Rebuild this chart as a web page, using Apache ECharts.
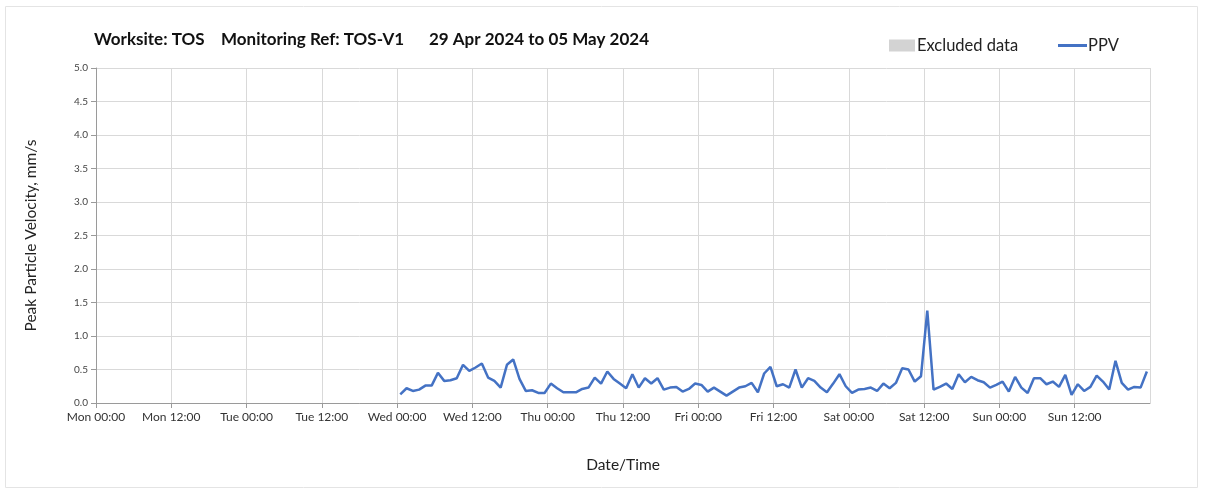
<!DOCTYPE html>
<html>
<head>
<meta charset="utf-8">
<script src="https://cdn.jsdelivr.net/npm/echarts@6.0.0/dist/echarts.min.js"></script>
<style>
  html, body { margin: 0; padding: 0; background: #fff; }
  #chart { width: 1208px; height: 495px; }
</style>
</head>
<body>
<div id="chart"></div>
<script>
// x axis runs in hours from Mon 00:00 to the following Mon 00:00
const tickLabels = ["Mon 00:00", "Mon 12:00", "Tue 00:00", "Tue 12:00", "Wed 00:00", "Wed 12:00",
    "Thu 00:00", "Thu 12:00", "Fri 00:00", "Fri 12:00", "Sat 00:00", "Sat 12:00",
    "Sun 00:00", "Sun 12:00", ""];

// hourly PPV readings (mm/s), first one at Wed 00:30
const ppvFirstHour = 48.5;
const ppvValues = [
    0.13, 0.22, 0.18, 0.20, 0.26, 0.26, 0.45, 0.33, 0.34, 0.37, 0.57, 0.48,
    0.53, 0.59, 0.38, 0.33, 0.23, 0.57, 0.65, 0.36, 0.18, 0.19, 0.15, 0.15,
    0.29, 0.22, 0.16, 0.16, 0.16, 0.21, 0.23, 0.38, 0.29, 0.47, 0.36, 0.29,
    0.22, 0.43, 0.23, 0.37, 0.29, 0.37, 0.20, 0.23, 0.24, 0.17, 0.21, 0.29,
    0.27, 0.17, 0.23, 0.17, 0.11, 0.17, 0.23, 0.25, 0.30, 0.16, 0.44, 0.54,
    0.25, 0.28, 0.23, 0.50, 0.23, 0.37, 0.33, 0.23, 0.16, 0.29, 0.43, 0.25,
    0.15, 0.20, 0.21, 0.23, 0.18, 0.29, 0.22, 0.30, 0.52, 0.50, 0.32, 0.40,
    1.38, 0.20, 0.24, 0.29, 0.21, 0.43, 0.31, 0.39, 0.34, 0.31, 0.23, 0.27,
    0.32, 0.17, 0.39, 0.23, 0.15, 0.37, 0.37, 0.28, 0.32, 0.24, 0.42, 0.12,
    0.28, 0.18, 0.24, 0.41, 0.32, 0.20, 0.63, 0.30, 0.20, 0.24, 0.23, 0.47
];

const titleText = "Worksite: TOS    Monitoring Ref: TOS-V1      29 Apr 2024 to 05 May 2024";
const fontFamily = "Lato, 'Open Sans', sans-serif";

const ppvData = ppvValues.map((v, i) => [ppvFirstHour + i, v]);

const chart = echarts.init(document.getElementById("chart"), null, { renderer: "canvas" });

chart.setOption({
    animation: false,
    textStyle: { fontFamily: fontFamily },
    graphic: [{
        type: "rect",
        shape: { x: 5.5, y: 6.5, width: 1192, height: 481 },
        style: { fill: "none", stroke: "#e4e4e4", lineWidth: 1 },
        silent: true,
    }],
    title: {
        text: titleText,
        left: 89,
        top: 26,
        textStyle: { fontSize: 17, fontWeight: "bold", color: "#111", fontFamily: fontFamily },
    },
    legend: [{
        data: ["Excluded data"],
        left: 884,
        top: 32,
        icon: "rect",
        itemWidth: 26,
        itemHeight: 12,
        itemGap: 4,
        textStyle: { fontSize: 16.5, color: "#222", padding: [0, 0, 0, -3] },
    }, {
        data: ["PPV"],
        left: 1053,
        top: 32,
        icon: "rect",
        itemWidth: 29,
        itemHeight: 3,
        textStyle: { fontSize: 16.5, color: "#222", padding: [0, 0, 0, -4] },
    }],
    grid: { left: 96, right: 58, top: 68, bottom: 92 },
    xAxis: {
        type: "value",
        min: 0,
        max: 168,
        interval: 12,
        name: "Date/Time",
        nameLocation: "middle",
        nameGap: 54,
        nameTextStyle: { fontSize: 15.5, color: "#222" },
        axisLine: { show: true, lineStyle: { color: "#9a9a9a", width: 1 } },
        axisTick: { show: true, length: 5, lineStyle: { color: "#9a9a9a" } },
        axisLabel: {
            fontSize: 12,
            color: "#333",
            margin: 8,
            showMaxLabel: false,
            formatter: (v) => tickLabels[Math.round(v / 12)],
        },
        splitLine: { show: true, lineStyle: { color: "#d9d9d9", width: 1 } },
    },
    yAxis: {
        type: "value",
        min: 0,
        max: 5,
        interval: 0.5,
        name: "Peak Particle Velocity, mm/s",
        nameLocation: "middle",
        nameGap: 57,
        nameTextStyle: { fontSize: 15.5, color: "#222" },
        axisLine: { show: true, lineStyle: { color: "#9a9a9a", width: 1 } },
        axisTick: { show: true, length: 5, lineStyle: { color: "#9a9a9a" } },
        axisLabel: {
            fontSize: 10,
            color: "#444",
            margin: 8,
            formatter: (v) => v.toFixed(1),
        },
        splitLine: { show: true, lineStyle: { color: "#d9d9d9", width: 1 } },
    },
    series: [{
        name: "Excluded data",
        type: "bar",
        data: [],
        itemStyle: { color: "#d3d3d3" },
    }, {
        name: "PPV",
        type: "line",
        data: ppvData,
        showSymbol: false,
        symbol: "none",
        lineStyle: { color: "#4472c4", width: 2.5 },
        itemStyle: { color: "#4472c4" },
    }],
});
</script>
</body>
</html>
